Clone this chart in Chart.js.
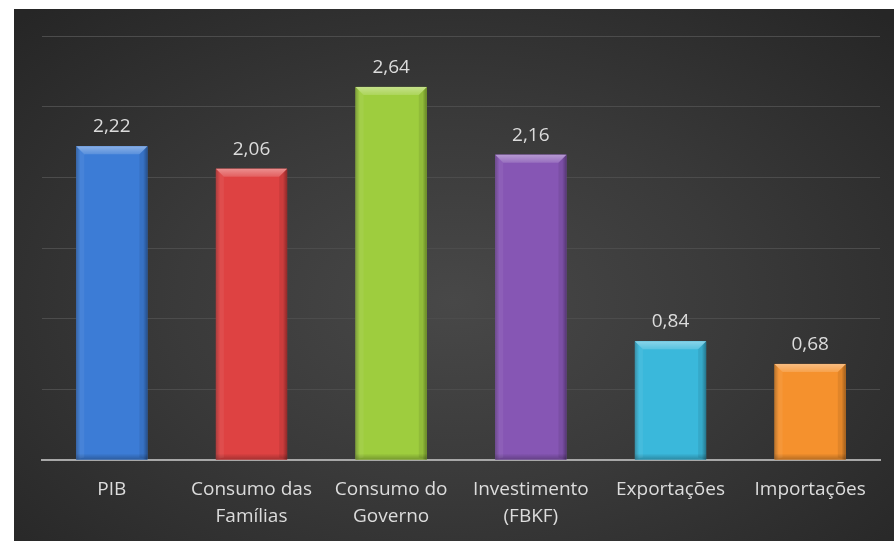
<!DOCTYPE html>
<html lang="pt">
<head>
  <meta charset="UTF-8" />
  <title>Componentes do PIB</title>
  <script src="https://cdn.jsdelivr.net/npm/chart.js"></script>
  <style>
    html, body {
      margin: 0;
      padding: 0;
      background: #ffffff;
      overflow: hidden;
    }
    .frame {
      position: absolute;
      left: 14px;
      top: 9px;
      width: 880px;
      height: 532px;
      background: radial-gradient(ellipse 70% 75% at 50% 55%, #484848 0%, #3a3a3a 45%, #262626 100%);
    }
  </style>
</head>
<body>
  <div class="frame">
    <canvas id="grafico" width="880" height="532"></canvas>
  </div>

  <script>
    const categorias = [
      'PIB',
      ['Consumo das', 'Famílias'],
      ['Consumo do', 'Governo'],
      ['Investimento', '(FBKF)'],
      'Exportações',
      'Importações'
    ];
    const valores = [2.22, 2.06, 2.64, 2.16, 0.84, 0.68];
    const cores = ['#3c7cd6', '#de4242', '#9ecd3e', '#8656b4', '#3ab8db', '#f5912d'];
    const eixoMax = 3;
    const eixoPasso = 0.5;

    // mistura uma cor hex com branco (t > 0) ou preto (t < 0)
    function tom(hex, t) {
      const n = parseInt(hex.slice(1), 16);
      let r = (n >> 16) & 255, g = (n >> 8) & 255, b = n & 255;
      const alvo = t > 0 ? 255 : 0;
      const k = Math.abs(t);
      r = Math.round(r + (alvo - r) * k);
      g = Math.round(g + (alvo - g) * k);
      b = Math.round(b + (alvo - b) * k);
      return `rgb(${r},${g},${b})`;
    }

    // relevo das barras + rótulos de valor
    const relevo = {
      id: 'relevo',
      afterDatasetsDraw(chart) {
        const ctx = chart.ctx;
        const meta = chart.getDatasetMeta(0);
        meta.data.forEach((bar, i) => {
          const cor = cores[i];
          const w = bar.width;
          const x0 = bar.x - w / 2, x1 = bar.x + w / 2;
          const y0 = bar.y, y1 = bar.base;
          const b = 8;
          ctx.save();
          // sombreamento lateral
          const g = ctx.createLinearGradient(x0, 0, x1, 0);
          g.addColorStop(0, tom(cor, -0.25));
          g.addColorStop(0.06, cor);
          g.addColorStop(0.94, cor);
          g.addColorStop(1, tom(cor, -0.3));
          ctx.fillStyle = g;
          ctx.fillRect(x0, y0, w, y1 - y0);
          // base mais escura
          const gb = ctx.createLinearGradient(0, y1 - 6, 0, y1);
          gb.addColorStop(0, 'rgba(0,0,0,0)');
          gb.addColorStop(1, 'rgba(0,0,0,0.25)');
          ctx.fillStyle = gb;
          ctx.fillRect(x0, y1 - 6, w, 6);
          // chanfro superior
          ctx.beginPath();
          ctx.moveTo(x0, y0);
          ctx.lineTo(x1, y0);
          ctx.lineTo(x1 - b, y0 + b);
          ctx.lineTo(x0 + b, y0 + b);
          ctx.closePath();
          const gt = ctx.createLinearGradient(0, y0, 0, y0 + b);
          gt.addColorStop(0, tom(cor, 0.4));
          gt.addColorStop(1, tom(cor, 0.15));
          ctx.fillStyle = gt;
          ctx.fill();
          ctx.beginPath();
          ctx.moveTo(x0, y0);
          ctx.lineTo(x0 + b, y0 + b);
          ctx.lineTo(x0 + b, y1 - 2);
          ctx.lineTo(x0, y1);
          ctx.closePath();
          ctx.fillStyle = 'rgba(255,255,255,0.06)';
          ctx.fill();
          ctx.beginPath();
          ctx.moveTo(x1, y0);
          ctx.lineTo(x1 - b, y0 + b);
          ctx.lineTo(x1 - b, y1 - 2);
          ctx.lineTo(x1, y1);
          ctx.closePath();
          ctx.fillStyle = 'rgba(0,0,0,0.08)';
          ctx.fill();
          // valor
          ctx.fillStyle = '#dcdcdc';
          ctx.font = '19px "Open Sans", sans-serif';
          ctx.textAlign = 'center';
          ctx.textBaseline = 'alphabetic';
          ctx.fillText(valores[i].toFixed(2).replace('.', ','), bar.x, y0 - 14);
          ctx.restore();
        });
      }
    };

    new Chart(document.getElementById('grafico').getContext('2d'), {
      type: 'bar',
      data: {
        labels: categorias,
        datasets: [{
          data: valores,
          backgroundColor: cores,
          borderWidth: 0,
          categoryPercentage: 1,
          barPercentage: 0.51
        }]
      },
      options: {
        responsive: false,
        animation: false,
        layout: { padding: { left: 28, right: 14, top: 27, bottom: 0 } },
        plugins: {
          legend: { display: false },
          tooltip: { enabled: false }
        },
        scales: {
          x: {
            grid: { display: false, drawTicks: false },
            border: { display: true, color: '#a8a8a8', width: 2 },
            ticks: {
              color: '#dcdcdc',
              font: { family: '"Open Sans", sans-serif', size: 19, lineHeight: 1.42 },
              padding: 16,
              maxRotation: 0,
              autoSkip: false
            },
            afterFit(scale) { scale.height = 81; }
          },
          y: {
            min: 0,
            max: eixoMax,
            ticks: { display: false, stepSize: eixoPasso },
            grid: { color: '#4c4c4c', lineWidth: 1, drawTicks: false },
            border: { display: false },
            afterFit(scale) { scale.width = 0; }
          }
        }
      },
      plugins: [relevo]
    });
  </script>
</body>
</html>
